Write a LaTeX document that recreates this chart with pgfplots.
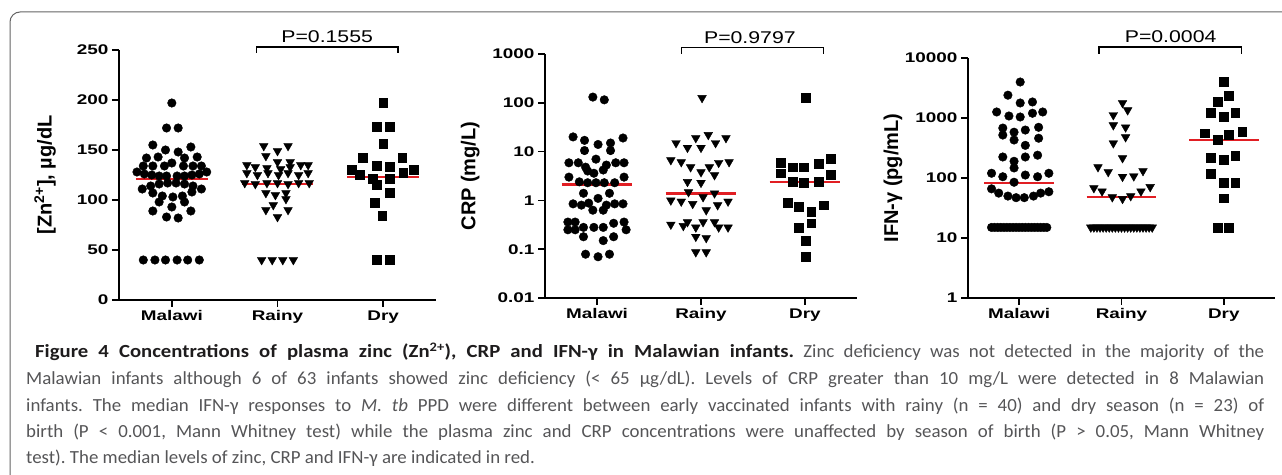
\documentclass[border=0pt]{standalone}
\usepackage{fontspec}
\setmainfont{Liberation Sans}
\newfontfamily\tickfont{Liberation Sans}[FakeStretch=1.35]
\newfontfamily\pfont{Liberation Sans}[FakeStretch=1.25]
\newfontfamily\capfont{Carlito}[FakeStretch=1.02]
\newfontfamily\capbf{Carlito}[FakeStretch=1.12]
\usepackage{pgfplots}
\pgfplotsset{compat=1.18}
\definecolor{medred}{RGB}{225,30,35}
\definecolor{capgray}{RGB}{85,85,87}
\definecolor{capdark}{RGB}{30,28,29}
\definecolor{framegray}{RGB}{100,100,100}
\tikzset{ptext/.style={font=\pfont\fontsize{17}{17}\selectfont, anchor=base}}
\pgfplotsset{
  panel/.style={
    scale only axis,
    axis lines=left,
    axis line style={-, line width=2pt, black},
    tick align=outside,
    major tick length=7pt,
    minor tick length=0pt,
    every tick/.style={black, line width=1.6pt},
    xmin=-0.5, xmax=2.5,
    xtick={0,1,2},
    xticklabels={Malawi,Rainy,Dry},
    tick label style={font=\tickfont\bfseries\fontsize{14}{14}\selectfont},
    /pgf/number format/assume math mode=true,
    ylabel style={font=\bfseries\fontsize{20}{20}\selectfont, anchor=center},
    clip=false,
  },
  grpA/.style={only marks, mark=*, mark size=4.3pt, black},
  grpB/.style={only marks, mark=triangle*, mark size=5pt, black, mark options={rotate=180}},
  grpC/.style={only marks, mark=square*, mark size=4.4pt, black},
  med/.style={medred, line width=2.5pt, no marks},
}
\begin{document}
\frenchspacing
\begin{tikzpicture}[x=1pt,y=1pt]
\useasboundingbox (0,0) rectangle (1282,474);
\draw[framegray, line width=1pt, rounded corners=10pt] (10,-20) -- (10,462) -- (1300,462);

% ---------------- Panel 1: Zinc ----------------
\begin{axis}[panel, at={(119pt,174pt)}, anchor=south west, width=317pt, height=250pt,
  ymin=0, ymax=250, ytick={0,50,100,150,200,250},
  ylabel={[Zn\textsuperscript{2+}], µg/dL},
  ylabel style={at={(axis description cs:-0.233,0.5)}}]
\addplot[grpA] coordinates {
(0,197) (-0.05,172) (0.06,172)
(-0.18,155) (-0.06,150) (0.06,148) (0.18,153)
(-0.24,142) (-0.13,143) (0,137) (0.12,142) (0.24,143)
(-0.27,134) (-0.18,134) (-0.07,134) (0.11,134) (0.2,134) (0.28,134)
(-0.33,128) (-0.26,126) (-0.19,125) (-0.12,124) (-0.05,124) (0.05,124) (0.12,124) (0.19,125) (0.26,126) (0.33,128)
(-0.28,111) (-0.2,114) (-0.12,116) (-0.04,117) (0.04,117) (0.12,116) (0.2,114) (0.28,111)
(-0.18,107) (-0.09,104) (0.01,103) (0.1,104) (0.19,108)
(-0.12,98) (0.12,98) (0,93) (-0.18,89) (0.18,89) (-0.05,83) (0.06,82)
(-0.27,40) (-0.16,40) (-0.06,40) (0.05,40) (0.15,40) (0.26,40)
};
\addplot[grpB] coordinates {
(0.87,154) (1,149) (1.1,154)
(0.89,144) (1,138) (1.12,138)
(0.71,135) (0.79,133) (0.9,132) (1.03,131) (1.12,133) (1.22,135) (1.29,135)
(0.71,127) (0.81,125) (0.91,127) (1.01,125) (1.1,127) (1.2,125) (1.29,127)
(0.69,117) (0.79,116) (0.9,117) (1,117) (1.1,116) (1.2,117) (1.3,117)
(0.89,107) (0.98,105) (1.08,107) (1.08,101)
(0.89,90) (0.96,95) (1.1,90) (1,83)
(0.85,40) (0.95,40) (1.05,40) (1.15,40)
};
\addplot[grpC] coordinates {
(2,197) (1.94,173) (2.06,173) (2,156) (1.81,142) (2.18,142) (1.94,134) (2.06,133)
(1.7,130) (2.29,130) (1.78,125) (1.9,121) (2.06,121) (2.19,127) (1.94,115) (2.06,107)
(1.92,97) (1.99,84) (1.94,40) (2.06,40)
};
\addplot[med] coordinates {(-0.34,121) (0.34,121)};
\addplot[med] coordinates {(0.66,116) (1.34,116)};
\addplot[med] coordinates {(1.66,123) (2.34,123)};
\draw[line width=1.2pt] (axis cs:0.8,247) |- (axis cs:2.14,253) -- (axis cs:2.14,247);
\node[ptext] at (axis cs:1.47,257) {P=0.1555};
\end{axis}

% ---------------- Panel 2: CRP ----------------
\begin{axis}[panel, at={(545pt,176pt)}, anchor=south west, width=312pt, height=244pt,
  ymode=log, ymin=0.01, ymax=1000,
  ytick={0.01,0.1,1,10,100,1000}, yticklabels={0.01,0.1,1,10,100,1000},
  ylabel={CRP (mg/L)},
  ylabel style={at={(axis description cs:-0.24,0.5)}}]
\addplot[grpA] coordinates {
(-0.04,131) (0.07,115)
(-0.23,20) (-0.12,17) (0.01,14) (0.13,15) (0.25,19)
(-0.12,10.5) (0.13,10.5)
(-0.27,5.9) (-0.18,5.9) (-0.11,4.8) (-0.01,7.0) (0.09,5.3) (0.18,5.9) (0.26,5.9) (-0.09,4.0) (0.06,4.2) (-0.03,3.6)
(-0.27,3.0) (0.26,3.0) (-0.17,2.4) (-0.09,2.3) (-0.01,2.3) (0.07,2.3) (0.17,2.3)
(-0.13,1.4) (0.12,1.4)
(-0.23,0.85) (-0.15,0.8) (-0.08,0.88) (0.01,1.1) (0.09,0.8) (0.17,0.85) (0.25,0.85) (-0.04,0.63) (0.06,0.63)
(-0.28,0.36) (-0.28,0.25) (-0.21,0.36) (-0.21,0.25) (-0.13,0.28) (-0.03,0.28) (0.06,0.28) (0.16,0.34) (0.26,0.36) (0.28,0.25)
(-0.13,0.18) (0.06,0.15) (0.16,0.18)
(-0.11,0.079) (0.01,0.07) (0.12,0.079)
};
\addplot[grpB] coordinates {
(1.01,126)
(0.76,15) (0.95,19) (1.07,22) (1.14,15) (1.24,19)
(0.87,12) (1,12)
(0.71,6.7) (0.81,6.1) (0.9,4.8) (1,3.8) (1.08,4.8) (1.13,3.3) (1.17,5.9) (1.27,6.1)
(0.87,2.4) (1,2.3)
(0.88,1.48) (1.02,1.17) (1.13,1.4)
(0.71,1.0) (0.81,0.95) (0.92,0.85) (1.05,0.63) (1.16,0.8) (1.26,0.95)
(0.71,0.32) (0.83,0.3) (0.87,0.36) (0.95,0.28) (1.02,0.36) (1.13,0.36) (1.17,0.28) (1.26,0.28)
(0.95,0.18) (1.05,0.17)
(0.95,0.087) (1.05,0.087)
};
\addplot[grpC] coordinates {
(2.01,126)
(1.77,5.9) (1.77,3.6) (1.88,4.8) (1.99,4.8) (2.13,5.6) (2.25,7.1) (2.25,3.3)
(1.88,2.4) (1.99,2.3) (2.13,2.4)
(1.83,0.89) (1.94,0.73) (2.18,0.8) (2.06,0.58)
(1.94,0.28) (2.06,0.34)
(2.01,0.15) (2.01,0.07)
};
\addplot[med] coordinates {(-0.34,2.1) (0.34,2.1)};
\addplot[med] coordinates {(0.66,1.4) (1.34,1.4)};
\addplot[med] coordinates {(1.66,2.4) (2.34,2.4)};
\draw[line width=1.2pt] (axis cs:0.81,1000) |- (axis cs:2.18,1380) -- (axis cs:2.18,1000);
\node[ptext] at (axis cs:1.47,1680) {P=0.9797};
\end{axis}

% ---------------- Panel 3: IFN-gamma ----------------
\begin{axis}[panel, at={(968pt,176pt)}, anchor=south west, width=307pt, height=240pt,
  ymode=log, ymin=1, ymax=10000,
  ytick={1,10,100,1000,10000}, yticklabels={1,10,100,1000,10000},
  ylabel={IFN-γ (pg/mL)},
  ylabel style={at={(axis description cs:-0.244,0.5)}}]
\addplot[grpA] coordinates {
(0.01,3980) (-0.11,2400) (0.01,1780) (0.13,1850)
(-0.22,1260) (-0.1,1080) (0.01,1040) (0.13,1200) (0.23,1260)
(-0.16,680) (-0.16,520) (-0.05,580) (-0.05,430) (0.06,630) (0.19,700) (0.19,460) (0.06,350)
(-0.16,224) (-0.05,190) (0.06,224) (0.18,240) (-0.05,147)
(-0.27,120) (-0.16,105) (-0.05,85) (0.06,112) (0.18,105) (0.29,120)
(-0.27,66) (-0.2,56) (-0.11,50) (-0.03,47) (0.05,47) (0.14,50) (0.21,56) (0.29,59)
(-0.27,15) (-0.24,15) (-0.21,15) (-0.18,15) (-0.15,15) (-0.12,15) (-0.09,15) (-0.06,15) (-0.03,15) (0,15)
(0.03,15) (0.06,15) (0.09,15) (0.12,15) (0.15,15) (0.18,15) (0.21,15) (0.24,15) (0.27,15)
};
\addplot[grpB] coordinates {
(1.01,1780) (1.06,1350) (0.92,1120) (0.92,760) (1.04,700) (1.04,480) (0.92,380) (1.01,215)
(0.77,152) (0.87,126) (1.01,105) (1.12,107) (1.21,131)
(0.73,68) (0.81,60) (0.91,48) (1.01,45) (1.09,50) (1.19,60) (1.28,71)
(0.70,15) (0.73,15) (0.76,15) (0.79,15) (0.82,15) (0.85,15) (0.88,15) (0.91,15) (0.94,15) (0.97,15) (1.00,15)
(1.03,15) (1.06,15) (1.09,15) (1.12,15) (1.15,15) (1.18,15) (1.21,15) (1.24,15) (1.27,15) (1.30,15)
};
\addplot[grpC] coordinates {
(2,3980) (1.94,1850) (2.05,2340) (1.87,1210) (2,1040) (2.11,1210) (1.81,560) (1.94,430) (2.05,520) (2.18,590)
(1.87,215) (2,200) (2.11,234) (1.87,117) (2,83) (2.11,83) (2,46) (1.94,15) (2.05,15)
};
\addplot[med] coordinates {(-0.34,83) (0.34,83)};
\addplot[med] coordinates {(0.66,48) (1.34,48)};
\addplot[med] coordinates {(1.66,430) (2.34,430)};
\draw[line width=1.2pt] (axis cs:0.78,11700) |- (axis cs:2.17,15200) -- (axis cs:2.17,11700);
\node[ptext] at (axis cs:1.48,17800) {P=0.0004};
\end{axis}

% ---------------- Caption ----------------
\begin{scope}[every node/.style={anchor=base west, inner sep=0pt, font=\capfont\fontsize{18.5}{18.5}\selectfont, text=capgray}]
\node at (35,116) {\makebox[1229pt][s]{\textcolor{capdark}{\capbf\bfseries Figure 4 Concentrations of plasma zinc (Zn\textsuperscript{2+}), CRP and IFN-γ in Malawian infants.} Zinc deficiency was not detected in the majority of the}};
\node at (26,89) {\makebox[1238pt][s]{Malawian infants although 6 of 63 infants showed zinc deficiency (< 65 µg/dL). Levels of CRP greater than 10 mg/L were detected in 8 Malawian}};
\node at (26,63) {\makebox[1238pt][s]{infants. The median IFN-γ responses to \textit{M. tb} PPD were different between early vaccinated infants with rainy (n = 40) and dry season (n = 23) of}};
\node at (26,37) {\makebox[1238pt][s]{birth (P < 0.001, Mann Whitney test) while the plasma zinc and CRP concentrations were unaffected by season of birth (P > 0.05, Mann Whitney}};
\node at (26,11) {test). The median levels of zinc, CRP and IFN-γ are indicated in red.};
\end{scope}
\end{tikzpicture}
\end{document}
